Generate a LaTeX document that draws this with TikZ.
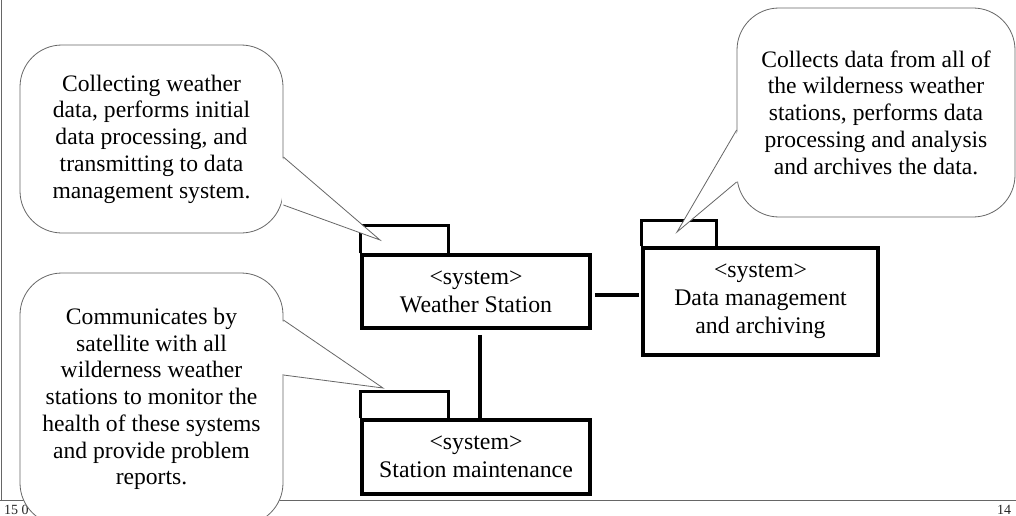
\documentclass[tikz,border=0pt]{standalone}
\usepackage{fontspec}
\setmainfont{Liberation Serif}
\usetikzlibrary{calc}
\begin{document}
\begin{tikzpicture}[x=1pt,y=-1pt,
  callout/.style={draw=black!60, line width=0.8pt, fill=white, rounded corners=42pt,
    align=center, font=\fontsize{23.6}{26.7}\selectfont, inner sep=0pt},
  pkg/.style={draw=black, line width=3.5pt, fill=white, align=center,
    font=\fontsize{23.8}{28}\selectfont, inner sep=0pt},
  tabline/.style={draw=black, line width=3.5pt},
  conn/.style={draw=black, line width=3.5pt},
  tail/.style={draw=black!60, line width=0.8pt},
  frameline/.style={draw=black!60, line width=1pt},
  pagetext/.style={font=\fontsize{14}{14}\selectfont, inner sep=0pt, text=black!85}]
\useasboundingbox (0,0) rectangle (1016,516);
\clip (0,0) rectangle (1016,516);
\fill[white] (0,0) rectangle (1016,516);
% page frame
\draw[frameline] (1,0) -- (1,500);
\draw[frameline] (0,500) -- (1016,500);
\node[pagetext, anchor=base west] (pgl) at (4,514) {15 0};
\node[pagetext, anchor=base west] (pgr) at (997,514) {14};

% packages
\node[pkg, minimum width=228pt, minimum height=73pt] (ws) at (476,291.5) {<system>\\Weather Station};
\draw[tabline] (ws.north west) -- ++(0,-28) -- ++(88,0) -- ++(0,28);
\node[pkg, minimum width=235pt, minimum height=107pt] (dm) at (760.5,301.5) {<system>\\Data management\\and archiving};
\draw[tabline] (dm.north west) -- ++(0,-26) -- ++(75,0) -- ++(0,26);
\node[pkg, minimum width=228pt, minimum height=74pt] (sm) at (476,457) {<system>\\Station maintenance};
\draw[tabline] (sm.north west) -- ++(0,-27) -- ++(88,0) -- ++(0,27);

% connectors
\coordinate (wsr) at ($(ws.east)+(3,3.5)$);
\draw[conn] (wsr) -- ($(wsr -| dm.west)+(-2,0)$);
\coordinate (wsb) at ($(ws.south)+(4,5)$);
\draw[conn] (wsb) -- (wsb |- sm.north);

% callouts
\node[callout, minimum width=263pt, minimum height=188pt] (c1) at (151.5,139)
  {Collecting weather\\data, performs initial\\data processing, and\\transmitting to data\\management system.};
\coordinate (t1) at (380,240);
\fill[white] ($(c1.east)+(-1.5,19)$) -- (t1) -- ($(c1.east)+(-1.5,65)$) -- cycle;
\draw[tail] ($(c1.east)+(0,18)$) -- (t1) -- ($(c1.east)+(0,66)$);

\node[callout, minimum width=278pt, minimum height=209pt] (c2) at (876,112.5)
  {Collects data from all of\\the wilderness weather\\stations, performs data\\processing and analysis\\and archives the data.};
\coordinate (t2) at (677,232);
\fill[white] ($(c2.west)+(1.5,18.5)$) -- (t2) -- ($(c2.west)+(1.5,68.5)$) -- cycle;
\draw[tail] ($(c2.west)+(0,17.5)$) -- (t2) -- ($(c2.west)+(0,69.5)$);

\node[callout, minimum width=263pt, minimum height=252pt] (c3) at (151.5,399)
  {Communicates by\\satellite with all\\wilderness weather\\stations to monitor the\\health of these systems\\and provide problem\\reports.};
\coordinate (t3) at (383,388);
\fill[white] ($(c3.east)+(-1.5,-78)$) -- (t3) -- ($(c3.east)+(-1.5,-25)$) -- cycle;
\draw[tail] ($(c3.east)+(0,-79)$) -- (t3) -- ($(c3.east)+(0,-24)$);
\end{tikzpicture}
\end{document}
